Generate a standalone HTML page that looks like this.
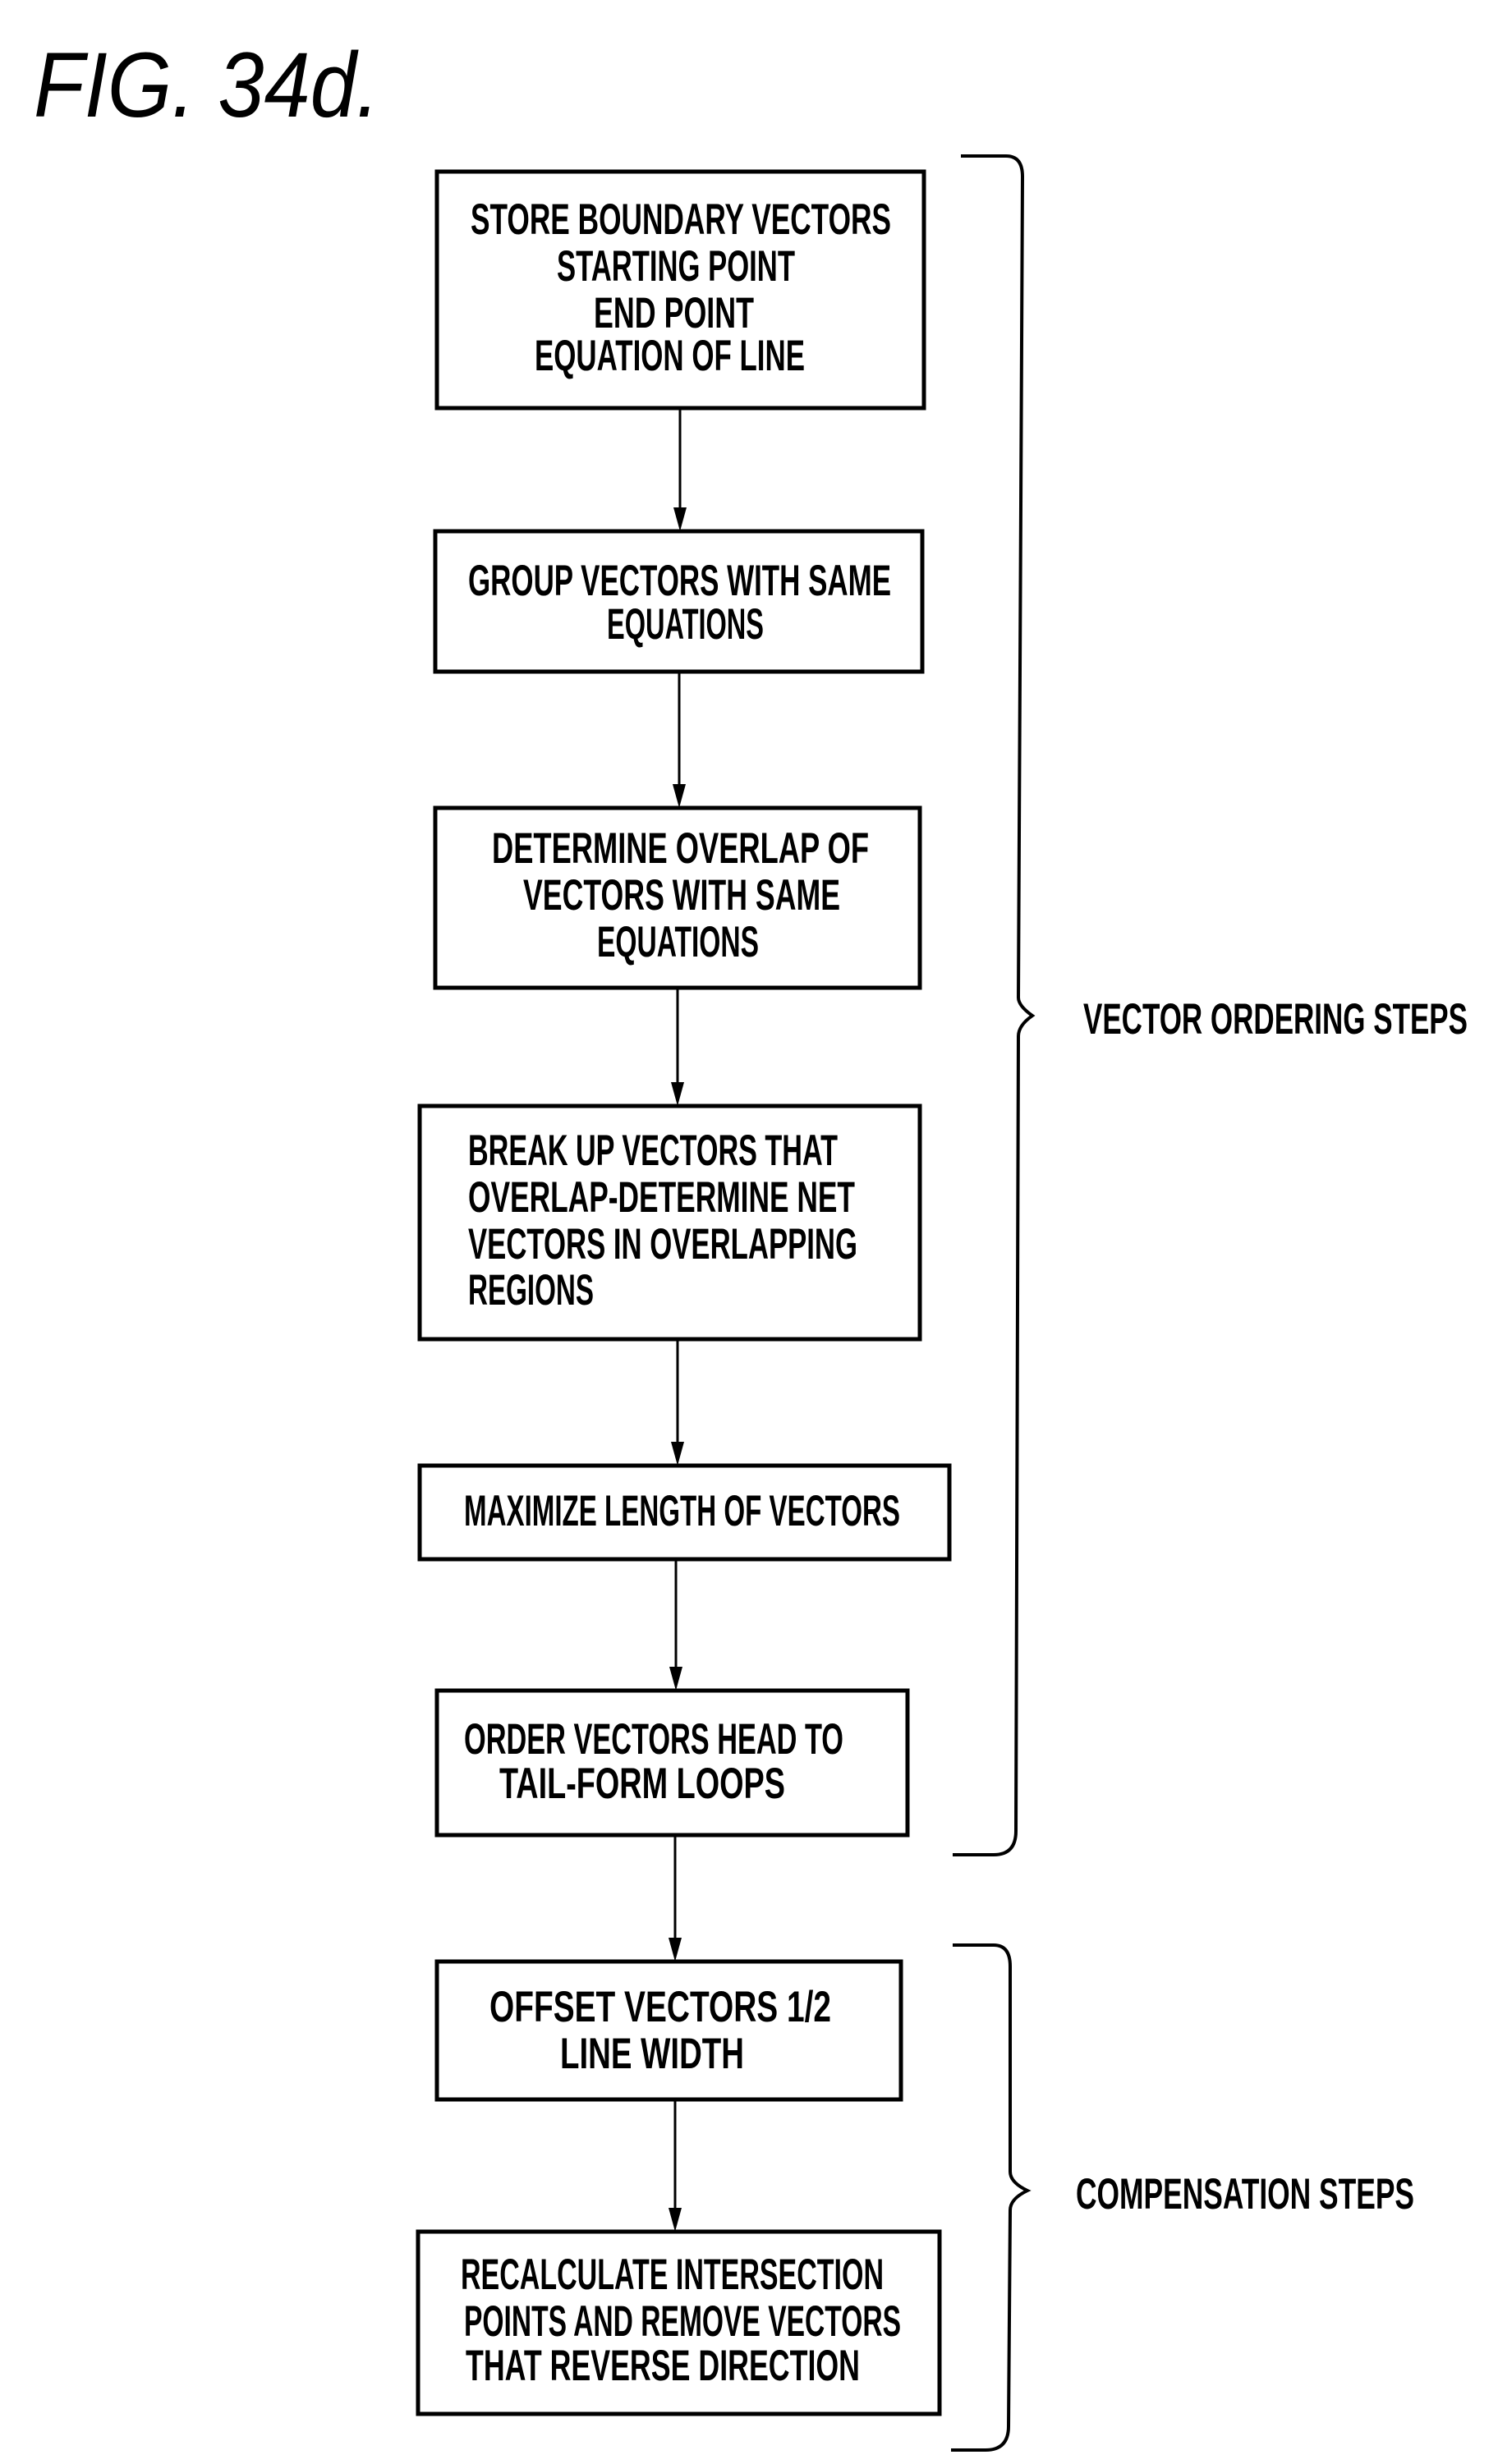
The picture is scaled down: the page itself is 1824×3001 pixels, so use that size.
<!DOCTYPE html>
<html><head><meta charset="utf-8"><style>
html,body{margin:0;padding:0;background:#fff}
svg{display:block}
text{font-family:"Liberation Sans",sans-serif;fill:#000}
.b{font-size:53px;font-weight:bold}
</style></head><body>
<svg width="1824" height="3001" viewBox="0 0 1824 3001" xmlns="http://www.w3.org/2000/svg">
<text x="41" y="142" font-size="112" font-style="italic" textLength="421" lengthAdjust="spacingAndGlyphs">FIG. 34d.</text>
<g fill="none" stroke="#000" stroke-width="5">
<rect x="532" y="209" width="593" height="288"/>
<rect x="530" y="647" width="593" height="171"/>
<rect x="530" y="984" width="590" height="219"/>
<rect x="511" y="1347" width="609" height="284"/>
<rect x="511" y="1785" width="645" height="114"/>
<rect x="532" y="2059" width="573" height="176"/>
<rect x="532" y="2389" width="565" height="168"/>
<rect x="509" y="2718" width="635" height="222"/>
</g>
<g stroke="#000" stroke-width="3">
<line x1="828" y1="497" x2="828" y2="620"/>
<line x1="827" y1="818" x2="827" y2="957"/>
<line x1="825" y1="1203" x2="825" y2="1320"/>
<line x1="825" y1="1631" x2="825" y2="1758"/>
<line x1="823" y1="1899" x2="823" y2="2032"/>
<line x1="822" y1="2235" x2="822" y2="2362"/>
<line x1="822" y1="2557" x2="822" y2="2691"/>
</g>
<g fill="#000">
<polygon points="820,618 836,618 828,647"/>
<polygon points="819,955 835,955 827,984"/>
<polygon points="817,1318 833,1318 825,1347"/>
<polygon points="817,1756 833,1756 825,1785"/>
<polygon points="815,2030 831,2030 823,2059"/>
<polygon points="814,2360 830,2360 822,2389"/>
<polygon points="814,2689 830,2689 822,2718"/>
</g>
<g fill="none" stroke="#000" stroke-width="4">
<path d="M1170,190 L1225,190 Q1245,190 1245,215 L1240,1215 Q1240,1225 1257,1237 Q1240,1249 1240,1262 L1237,2230 Q1237,2259 1210,2259 L1160,2259"/>
<path d="M1160,2369 L1210,2369 Q1230,2369 1230,2395 L1230,2645 Q1230,2658 1251,2668 Q1230,2678 1230,2692 L1228,2955 Q1228,2984 1200,2984 L1158,2984"/>
</g>
<g class="b">
<text x="573" y="285" textLength="512" lengthAdjust="spacingAndGlyphs">STORE BOUNDARY VECTORS</text>
<text x="678" y="342" textLength="290" lengthAdjust="spacingAndGlyphs">STARTING POINT</text>
<text x="723" y="399" textLength="195" lengthAdjust="spacingAndGlyphs">END POINT</text>
<text x="651" y="451" textLength="329" lengthAdjust="spacingAndGlyphs">EQUATION OF LINE</text>
<text x="570" y="725" textLength="515" lengthAdjust="spacingAndGlyphs">GROUP VECTORS WITH SAME</text>
<text x="739" y="778" textLength="191" lengthAdjust="spacingAndGlyphs">EQUATIONS</text>
<text x="599" y="1051" textLength="459" lengthAdjust="spacingAndGlyphs">DETERMINE OVERLAP OF</text>
<text x="637" y="1108" textLength="386" lengthAdjust="spacingAndGlyphs">VECTORS WITH SAME</text>
<text x="727" y="1165" textLength="197" lengthAdjust="spacingAndGlyphs">EQUATIONS</text>
<text x="570" y="1419" textLength="450" lengthAdjust="spacingAndGlyphs">BREAK UP VECTORS THAT</text>
<text x="570" y="1476" textLength="471" lengthAdjust="spacingAndGlyphs">OVERLAP-DETERMINE NET</text>
<text x="570" y="1533" textLength="474" lengthAdjust="spacingAndGlyphs">VECTORS IN OVERLAPPING</text>
<text x="570" y="1589" textLength="153" lengthAdjust="spacingAndGlyphs">REGIONS</text>
<text x="565" y="1858" textLength="531" lengthAdjust="spacingAndGlyphs">MAXIMIZE LENGTH OF VECTORS</text>
<text x="565" y="2136" textLength="462" lengthAdjust="spacingAndGlyphs">ORDER VECTORS HEAD TO</text>
<text x="608" y="2190" textLength="348" lengthAdjust="spacingAndGlyphs">TAIL-FORM LOOPS</text>
<text x="596" y="2462" textLength="416" lengthAdjust="spacingAndGlyphs">OFFSET VECTORS 1/2</text>
<text x="682" y="2519" textLength="224" lengthAdjust="spacingAndGlyphs">LINE WIDTH</text>
<text x="561" y="2788" textLength="515" lengthAdjust="spacingAndGlyphs">RECALCULATE INTERSECTION</text>
<text x="565" y="2845" textLength="532" lengthAdjust="spacingAndGlyphs">POINTS AND REMOVE VECTORS</text>
<text x="567" y="2899" textLength="480" lengthAdjust="spacingAndGlyphs">THAT REVERSE DIRECTION</text>
<text x="1319" y="1259" textLength="468" lengthAdjust="spacingAndGlyphs">VECTOR ORDERING STEPS</text>
<text x="1310" y="2690" textLength="412" lengthAdjust="spacingAndGlyphs">COMPENSATION STEPS</text>
</g>
</svg>
</body></html>
